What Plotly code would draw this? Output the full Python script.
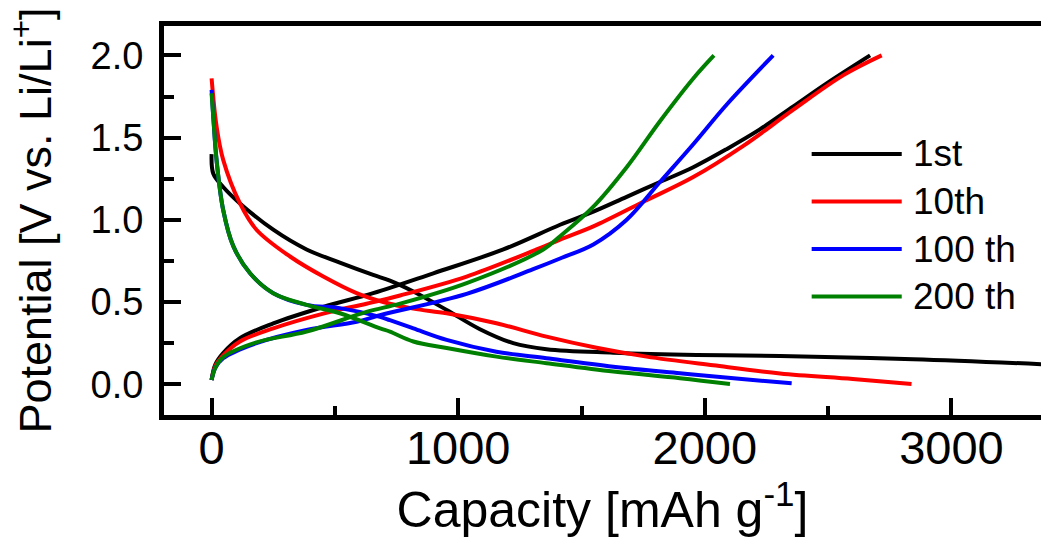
import plotly.graph_objects as go

# Galvanostatic discharge/charge profiles (capacity in mAh/g, potential in V vs Li/Li+)
cycle_names = ["1st", "10th", "100 th", "200 th"]
cycle_colors = ["#000000", "#FF0000", "#0000FF", "#008000"]

# 1st cycle
dis1_cap = [0, 7, 47, 115, 250, 385, 520, 655, 723, 818, 953, 1088, 1223, 1358, 1629, 1967, 2305, 2845, 3400]
dis1_pot = [1.40, 1.28, 1.20, 1.10, 0.94, 0.82, 0.74, 0.665, 0.63, 0.564, 0.452, 0.335, 0.25, 0.213, 0.192, 0.178, 0.172, 0.152, 0.12]
chg1_cap = [0, 15, 47, 115, 250, 453, 655, 899, 1183, 1413, 1548, 1683, 1818, 1953, 2088, 2223, 2359, 2494, 2670]
chg1_pot = [0.026, 0.12, 0.19, 0.28, 0.37, 0.47, 0.554, 0.675, 0.82, 0.97, 1.05, 1.14, 1.23, 1.32, 1.43, 1.55, 1.69, 1.83, 2.0]

# 10th cycle
dis10_cap = [0, 20, 47, 115, 182, 318, 453, 588, 696, 818, 953, 1155, 1358, 1561, 1764, 2034, 2305, 2600, 2838]
dis10_pot = [1.86, 1.57, 1.365, 1.10, 0.94, 0.777, 0.655, 0.554, 0.50, 0.46, 0.432, 0.371, 0.29, 0.222, 0.168, 0.115, 0.066, 0.032, 0.002]
chg10_cap = [0, 15, 47, 115, 250, 453, 628, 764, 1034, 1318, 1413, 1548, 1751, 1953, 2156, 2359, 2562, 2717]
chg10_pot = [0.026, 0.11, 0.175, 0.26, 0.34, 0.43, 0.49, 0.54, 0.655, 0.82, 0.88, 0.96, 1.11, 1.26, 1.45, 1.67, 1.88, 2.0]

# 100th cycle
dis100_cap = [0, 8, 20, 47, 88, 156, 250, 385, 520, 683, 723, 818, 953, 1155, 1358, 1629, 1899, 2150, 2352]
dis100_pot = [1.79, 1.60, 1.365, 1.06, 0.84, 0.675, 0.554, 0.483, 0.463, 0.41, 0.39, 0.34, 0.27, 0.198, 0.158, 0.107, 0.067, 0.032, 0.006]
chg100_cap = [0, 15, 47, 182, 385, 588, 683, 1034, 1304, 1413, 1548, 1683, 1818, 1953, 2088, 2277]
chg100_pot = [0.026, 0.10, 0.158, 0.25, 0.33, 0.38, 0.42, 0.55, 0.70, 0.765, 0.85, 1.00, 1.23, 1.46, 1.70, 2.0]

# 200th cycle
dis200_cap = [0, 8, 20, 47, 88, 156, 250, 385, 520, 683, 723, 818, 953, 1155, 1358, 1629, 1899, 2102]
dis200_pot = [1.77, 1.60, 1.365, 1.06, 0.84, 0.675, 0.554, 0.483, 0.432, 0.34, 0.32, 0.26, 0.22, 0.168, 0.128, 0.077, 0.037, 0.002]
chg200_cap = [0, 15, 47, 182, 385, 628, 764, 1034, 1345, 1413, 1548, 1683, 1818, 1953, 2037]
chg200_pot = [0.026, 0.10, 0.165, 0.255, 0.32, 0.44, 0.49, 0.615, 0.82, 0.90, 1.08, 1.32, 1.60, 1.86, 2.0]

profiles = [
    (dis1_cap, dis1_pot, chg1_cap, chg1_pot),
    (dis10_cap, dis10_pot, chg10_cap, chg10_pot),
    (dis100_cap, dis100_pot, chg100_cap, chg100_pot),
    (dis200_cap, dis200_pot, chg200_cap, chg200_pot),
]

x_tickvals = [0, 1000, 2000, 3000]
x_ticktext = ["0", "1000", "2000", "3000"]
y_tickvals = [0.0, 0.5, 1.0, 1.5, 2.0]
y_ticktext = ["0.0", "0.5", "1.0", "1.5", "2.0"]

FONT = "Arial, Liberation Sans, sans-serif"

fig = go.Figure()
for name, color, (dc, dp, cc, cp) in zip(cycle_names, cycle_colors, profiles):
    for cap, pot in ((dc, dp), (cc, cp)):
        fig.add_trace(go.Scatter(
            x=cap, y=pot, mode="lines", name=name, showlegend=False,
            line=dict(color=color, width=4, shape="spline", smoothing=1.0),
        ))

# Legend drawn as line samples with labels
leg_x0, leg_x1, leg_tx = 0.7385, 0.8412, 0.852
leg_y0, leg_dy = 0.671, 0.1222
for i, (name, color) in enumerate(zip(cycle_names, cycle_colors)):
    yy = leg_y0 - i * leg_dy
    fig.add_shape(type="line", xref="paper", yref="paper",
                  x0=leg_x0, x1=leg_x1, y0=yy, y1=yy,
                  line=dict(color=color, width=4))
    fig.add_annotation(xref="paper", yref="paper", x=leg_tx, y=yy,
                       text=name, showarrow=False, xanchor="left", yanchor="middle",
                       font=dict(family=FONT, size=37, color="black"))

axis_common = dict(
    showline=True, linewidth=5, linecolor="black",
    ticks="inside", ticklen=17, tickwidth=4, tickcolor="black",
    showgrid=False, zeroline=False,
)

fig.update_xaxes(
    **axis_common, mirror=True,
    range=[-193, 3363],
    tickvals=x_tickvals, ticktext=x_ticktext,
    tickfont=dict(family=FONT, size=47, color="black"),
    ticklabelstandoff=-12,
    minor=dict(tick0=0, dtick=500, ticks="inside", ticklen=9, tickwidth=4,
               tickcolor="black", showgrid=False),
    title=dict(text="Capacity [mAh g<sup>-1</sup>]",
               font=dict(family=FONT, size=50, color="black"), standoff=16),
)
fig.update_yaxes(
    **axis_common, mirror=False,
    range=[-0.187, 2.179],
    tickvals=y_tickvals, ticktext=y_ticktext,
    tickfont=dict(family=FONT, size=38, color="black"),
    ticklabelstandoff=8,
    minor=dict(tick0=0, dtick=0.25, ticks="inside", ticklen=10, tickwidth=4,
               tickcolor="black", showgrid=False),
    title=dict(text="Potential [V vs. Li/Li<sup>+</sup>]",
               font=dict(family=FONT, size=45, color="black"), standoff=26),
)

fig.update_layout(
    width=1041, height=545,
    margin=dict(l=164, r=0, t=26, b=130),
    paper_bgcolor="white", plot_bgcolor="white",
    showlegend=False,
)

fig.write_html("out.html")
